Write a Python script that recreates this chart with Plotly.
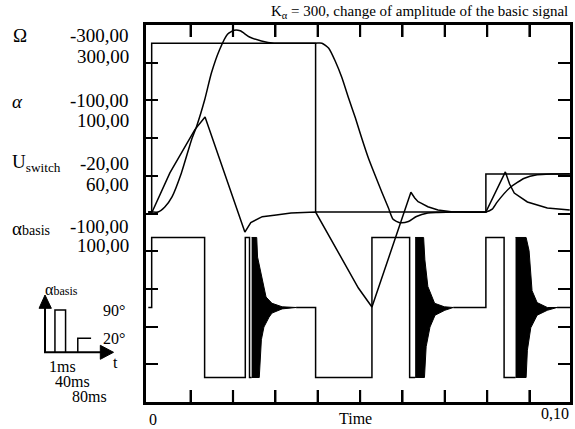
import numpy as np
import plotly.graph_objects as go

# ---------------------------------------------------------------------------
# Simulation records (time in ms)
# ---------------------------------------------------------------------------
# angular speed Omega
omega_t = [0, 0.8, 2.3, 3.9, 5.6, 7.8, 10.2, 11.4, 13.3, 14.9, 16.8, 18.7, 20.3,
           21.7, 23.9, 26.7, 29.7, 33.2, 39.5, 41.0, 42.6, 44.2, 45.7, 47.3, 48.9,
           50.4, 52.0, 53.5, 55.1, 56.7, 57.8, 59.4, 61.4, 63.3, 66.0, 68.4, 71.9,
           79.7, 81.2, 82.4, 85.5, 88.8, 91.8, 95.3, 99.5]
omega = [0, 0, 0, 9, 27, 69, 128, 152, 199, 247, 288, 316, 323,
         322, 311, 304, 300, 300, 300, 300, 291, 267, 239, 202, 167,
         131, 95, 66, 36, 7, -13, -19, -17, -8, -2, -1, 0,
         0, 5, 18, 44, 60, 66, 67.5, 68]

# angle alpha
alpha_t = [0, 0.9, 5.1, 11.0, 13.4, 22.8, 24.2, 26.9, 30.2, 33.7, 39.5, 49.6, 52.8,
           62.0, 62.9, 63.7, 64.4, 66.0, 68.4, 71.5, 79.7, 84.3, 85.3, 86.4, 89.5,
           94.2, 99.5]
alpha = [0, 0, 37, 78, 90, -19, -10, -4.4, -2.8, -0.9, 0, -72, -90,
         18.7, 13.3, 9.8, 8.5, 5.0, 1.9, 0.3, 0, 38, 26.5, 18, 9.5,
         3.8, 1.9]

# switching voltage (step signal)
u_switch_t = [0, 0.8, 39.5, 79.7, 99.6]
u_switch = [0, 60, 0, 13.5, 13.5]

# basic signal alpha_basis (square parts, gaps where it chatters)
alpha_basis_t = [0, 0.8, 13.3, 22.9, 23.9, 24.4, None,
                 34.9, 39.5, 52.8, 61.7, 63.0, None,
                 72.0, 79.7, 84.0, 86.7, None,
                 96.5, 99.6]
alpha_basis = [0, 100, -100, 100, -100, -100, None,
               0, -100, 100, -100, -100, None,
               0, 100, -100, -100, None,
               0, 0]

# envelopes of the chattering bursts of alpha_basis
burst1_upper_t = [24.4, 25.6, 25.8, 26.7, 27.8, 29.2, 31.6, 34.9]
burst1_upper = [100, 100, 72, 44, 15, 6, 1, 0]
burst1_lower_t = [24.4, 26.2, 26.7, 27.3, 28.5, 29.2, 31.6, 34.9]
burst1_lower = [-100, -100, -46, -28, -14, -8, -2, 0]

burst2_upper_t = [63.0, 65.0, 65.3, 66.0, 67.6, 69.9, 72.0]
burst2_upper = [100, 100, 68, 30, 6, 1, 0]
burst2_lower_t = [63.0, 65.2, 65.6, 66.5, 67.7, 70.0, 72.0]
burst2_lower = [-100, -100, -56, -28, -11, -4, 0]

burst3_upper_t = [86.7, 89.2, 89.9, 90.6, 91.8, 94.2, 96.5]
burst3_upper = [100, 100, 81, 24, 7, 0, 0]
burst3_lower_t = [86.7, 89.2, 89.5, 90.3, 91.8, 94.2, 96.5]
burst3_lower = [-100, -100, -61, -29, -11, -4, 0]

bursts = [
    (burst1_upper_t, burst1_upper, burst1_lower_t, burst1_lower),
    (burst2_upper_t, burst2_upper, burst2_lower_t, burst2_lower),
    (burst3_upper_t, burst3_upper, burst3_lower_t, burst3_lower),
]

# time grid marks (ms) and scale ranges of the stacked channels
time_ticks_ms = [10, 20, 30, 40, 50, 60, 70, 80, 90]
OMEGA_RANGE = [-337.7, 332.3]
ALPHA_RANGE = [-179.9, 177.1]
U_RANGE = [-67.6, 66.5]
ALPHA_BASIS_RANGE = [-135.0, 403.5]
TIME_RANGE_MS = [-0.54, 99.56]
N_DIV = 10

# ---------------------------------------------------------------------------
W, H = 575, 429
ML, MR, MT, MB = 146, 2, 25, 27
PW, PH = W - ML - MR, H - MT - MB
SERIF = "Liberation Serif, Times New Roman, serif"
INK = "black"
LW = 1.5
TICK_LEN = 12
TICK_W = 2.2

fig = go.Figure()

# alpha_basis lives on the framed base axes; the other channels use an
# overlaid time axis (same range) with their own vertical scales
fig.add_trace(go.Scatter(x=alpha_basis_t, y=alpha_basis, xaxis="x", yaxis="y", mode="lines",
                         line=dict(color=INK, width=LW, shape="hv"),
                         connectgaps=False, name="alpha_basis", showlegend=False))
for ut, uv, lt, lv in bursts:
    fig.add_trace(go.Scatter(x=ut + lt[::-1], y=uv + lv[::-1], xaxis="x", yaxis="y",
                             mode="lines", fill="toself", fillcolor=INK,
                             line=dict(color=INK, width=1),
                             showlegend=False, hoverinfo="skip"))
fig.add_trace(go.Scatter(x=u_switch_t, y=u_switch, xaxis="x2", yaxis="y4", mode="lines",
                         line=dict(color=INK, width=LW, shape="hv"),
                         name="U_switch", showlegend=False))
fig.add_trace(go.Scatter(x=omega_t, y=omega, xaxis="x2", yaxis="y2", mode="lines",
                         line=dict(color=INK, width=LW, shape="spline", smoothing=0.6),
                         name="Omega", showlegend=False))
fig.add_trace(go.Scatter(x=alpha_t, y=alpha, xaxis="x2", yaxis="y3", mode="lines",
                         line=dict(color=INK, width=LW),
                         name="alpha", showlegend=False))


def P(x, y):
    """pixel position -> paper coordinates"""
    return (x - ML) / PW, (H - MB - y) / PH


annotations = []


def label(text, x, y, anchor="center", size=19):
    px_, py_ = P(x, y)
    annotations.append(dict(text=text, x=px_, y=py_, xref="paper", yref="paper",
                            xanchor=anchor, yanchor="middle", showarrow=False,
                            font=dict(family=SERIF, size=size, color=INK)))


# channel names and scale limits on the left
label("Ω", 19, 35)
label("-300,00", 131, 36, "right")
label("300,00", 131, 57, "right")
label("<i>α</i>", 17, 101)
label("-100,00", 131, 100, "right")
label("100,00", 131, 121, "right")
label("U<sub>switch</sub>", 9, 163, "left")
label("-20,00", 131, 163, "right")
label("60,00", 131, 184, "right")
label("α<span style='font-size:14px'>basis</span>", 9, 228, "left")
label("-100,00", 131, 227, "right")
label("100,00", 131, 245, "right")

# small sketch of the basic signal
label("α<span style='font-size:12px'>basis</span>", 42, 289, "left", size=16)
label("90°", 101, 310, "left", size=16)
label("20°", 101, 338, "left", size=16)
label("t", 111, 362, "left", size=16)
label("1ms", 46, 366, "left", size=16)
label("40ms", 52, 381, "left", size=16)
label("80ms", 69, 396, "left", size=16)

# time axis labels
label("0", 153, 419, size=16)
label("Time", 357, 418, size=16)
label("0,10", 558, 414, size=16)

# heading
label("K<sub>α</sub> = 300, change of amplitude of the basic signal", 573, 12, "right", size=15)


def path(points, close=False):
    s = ""
    for i, (x, y) in enumerate(points):
        px_, py_ = P(x, y)
        s += ("M" if i == 0 else "L") + f"{px_:.5f},{py_:.5f} "
    return s + ("Z" if close else "")


shapes = [
    dict(type="path", xref="paper", yref="paper", path=path([(44.3, 352.3), (44.3, 307)]),
         line=dict(color=INK, width=2)),
    dict(type="path", xref="paper", yref="paper",
         path=path([(38.3, 308.3), (50.7, 308.3), (44.3, 295)], close=True),
         line=dict(color=INK, width=1), fillcolor=INK),
    dict(type="path", xref="paper", yref="paper", path=path([(43.3, 352.3), (101, 352.3)]),
         line=dict(color=INK, width=2)),
    dict(type="path", xref="paper", yref="paper",
         path=path([(100, 345.3), (100, 359.3), (113.3, 352.3)], close=True),
         line=dict(color=INK, width=1), fillcolor=INK),
    dict(type="path", xref="paper", yref="paper",
         path=path([(54.3, 352.3), (54.3, 310), (65, 310), (65, 352.3)]),
         line=dict(color=INK, width=1.5)),
    dict(type="path", xref="paper", yref="paper",
         path=path([(77.3, 352.3), (77.3, 338.3), (90.7, 338.3)]),
         line=dict(color=INK, width=1.5)),
]

# inside time ticks on the bottom and top edges of the frame, placed on the time axis
tick_h = TICK_LEN / PH
for tv in time_ticks_ms:
    shapes.append(dict(type="line", xref="x", yref="paper", x0=tv, x1=tv, y0=0, y1=tick_h,
                       line=dict(color=INK, width=TICK_W), layer="above"))
    shapes.append(dict(type="line", xref="x", yref="paper", x0=tv, x1=tv, y0=1 - tick_h, y1=1,
                       line=dict(color=INK, width=TICK_W), layer="above"))

frame = dict(showline=True, linecolor=INK, linewidth=2.5, mirror="ticks",
             ticks="inside", ticklen=TICK_LEN, tickwidth=TICK_W, tickcolor=INK,
             showgrid=False, zeroline=False, showticklabels=False, fixedrange=True)

# overlay scales: laid out like the base axes, but nothing of them is drawn
bare = dict(visible=True, showline=False, ticks="", showticklabels=False,
            showgrid=False, zeroline=False, fixedrange=True)
hidden_y = dict(overlaying="y", anchor="x2", side="left", **bare)

ab_step = (ALPHA_BASIS_RANGE[1] - ALPHA_BASIS_RANGE[0]) / N_DIV
ab_ticks = [ALPHA_BASIS_RANGE[0] + k * ab_step for k in range(1, N_DIV)]

fig.update_layout(
    width=W, height=H,
    margin=dict(l=ML, r=MR, t=MT, b=MB, pad=0),
    paper_bgcolor="white", plot_bgcolor="white",
    showlegend=False,
    xaxis=dict(type="linear", anchor="y", range=TIME_RANGE_MS,
               tickmode="array", tickvals=time_ticks_ms, **frame),
    yaxis=dict(type="linear", anchor="x", range=ALPHA_BASIS_RANGE,
               tickmode="array", tickvals=ab_ticks, **frame),
    xaxis2=dict(type="linear", overlaying="x", anchor="y", side="bottom",
                range=TIME_RANGE_MS, **bare),
    yaxis2=dict(range=OMEGA_RANGE, **hidden_y),
    yaxis3=dict(range=ALPHA_RANGE, **hidden_y),
    yaxis4=dict(range=U_RANGE, **hidden_y),
    annotations=annotations,
    shapes=shapes,
)

fig.write_html("out.html")
